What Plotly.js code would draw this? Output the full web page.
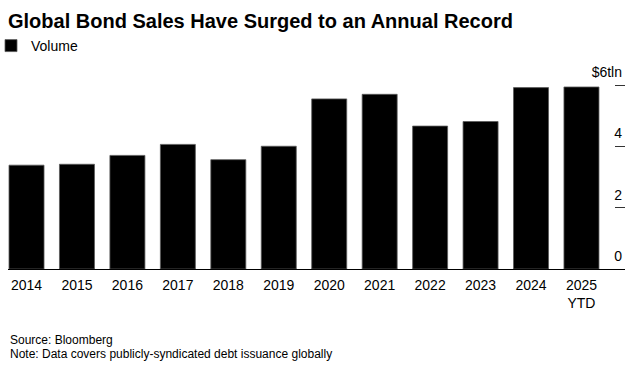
<!DOCTYPE html>
<html>
<head>
<meta charset="utf-8">
<script src="https://cdn.plot.ly/plotly-3.0.1.min.js"></script>
<style>
  html, body { margin: 0; padding: 0; background: #fff; }
  #chart { width: 642px; height: 370px; }
</style>
</head>
<body>
<div id="chart"></div>
<script>
// Data (trillions of USD)
const years = ['2014','2015','2016','2017','2018','2019','2020','2021','2022','2023','2024','2025'];
const yearLabels = ['2014','2015','2016','2017','2018','2019','2020','2021','2022','2023','2024','2025<br>YTD'];
const volume = [3.40, 3.43, 3.72, 4.08, 3.58, 4.02, 5.57, 5.72, 4.68, 4.83, 5.94, 5.96];
const yTickVals = [0, 2, 4, 6];
const yTickText = ['0', '2', '4', '$6tln'];

const FONT = '"Liberation Sans", Arial, sans-serif';

// plot area: top 60px, bottom 269px (height 209px)
const PLOT_TOP = 60, PLOT_BOTTOM = 269;
const PLOT_H = PLOT_BOTTOM - PLOT_TOP;
const py = (pix) => (PLOT_BOTTOM - pix) / PLOT_H; // pixel row -> paper y

const trace = {
  type: 'bar',
  name: 'Volume',
  x: years,
  y: volume,
  marker: { color: '#000000', line: { color: '#5a5a5a', width: 0.8 } },
  hoverinfo: 'x+y'
};

const layout = {
  width: 642,
  height: 370,
  margin: { l: 8, r: 17, t: PLOT_TOP, b: 370 - PLOT_BOTTOM },
  paper_bgcolor: '#ffffff',
  plot_bgcolor: '#ffffff',
  font: { family: FONT, size: 14, color: '#000' },
  title: {
    text: '<b>Global Bond Sales Have Surged to an Annual Record</b>',
    font: { family: FONT, size: 20, color: '#000' },
    x: 8 / 642, xanchor: 'left', xref: 'container',
    y: 1 - 21 / 370, yanchor: 'middle', yref: 'container'
  },
  showlegend: true,
  legend: {
    orientation: 'h',
    x: 3 / 642, xanchor: 'left', xref: 'container',
    y: 1 - 46 / 370, yanchor: 'middle', yref: 'container',
    font: { family: FONT, size: 14, color: '#000' },
    indentation: -12,
    bgcolor: 'rgba(0,0,0,0)'
  },
  bargap: 0.306,
  xaxis: {
    type: 'category',
    range: [-0.367, 11.863],
    tickvals: years,
    ticktext: yearLabels,
    showline: true,
    linecolor: '#000',
    linewidth: 1,
    ticks: '',
    ticklabelstandoff: 3,
    showgrid: false,
    zeroline: false,
    tickfont: { family: FONT, size: 14, color: '#000' },
    fixedrange: true
  },
  yaxis: {
    side: 'right',
    range: [0, 6 * PLOT_H / (269 - 84)],
    tickvals: yTickVals,
    ticktext: yTickText,
    ticks: 'inside',
    ticklen: 10,
    tickcolor: '#333',
    tickwidth: 1,
    ticklabelposition: 'inside top',
    ticklabelshift: -3,
    showgrid: false,
    zeroline: false,
    showline: false,
    tickfont: { family: FONT, size: 14, color: '#000' },
    fixedrange: true
  },
  annotations: [
    {
      text: 'Source: Bloomberg',
      xref: 'paper', yref: 'paper',
      x: 0, xanchor: 'left',
      y: py(341), yanchor: 'middle',
      showarrow: false,
      font: { family: FONT, size: 12, color: '#000' }
    },
    {
      text: 'Note: Data covers publicly-syndicated debt issuance globally',
      xref: 'paper', yref: 'paper',
      x: 0, xanchor: 'left',
      y: py(355), yanchor: 'middle',
      showarrow: false,
      font: { family: FONT, size: 12, color: '#000' }
    }
  ]
};

Plotly.newPlot('chart', [trace], layout, { displayModeBar: false, responsive: false });
</script>
</body>
</html>
